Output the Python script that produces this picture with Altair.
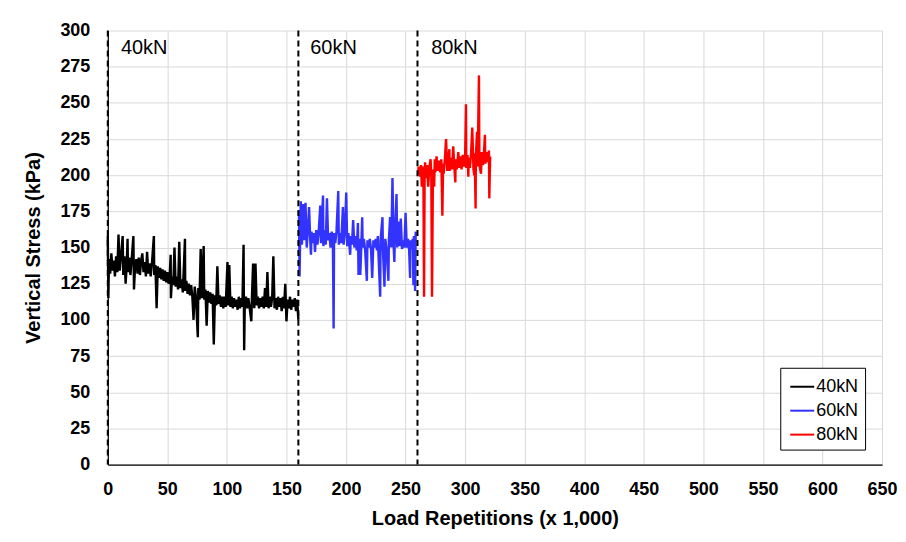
import altair as alt
import pandas as pd

# 40kN series (x in thousands of repetitions, y in kPa)
x40 = [0, 0.5, 1, 2, 3, 4, 5, 6, 7, 8, 9, 10, 11, 12.5, 13, 14, 15, 16, 16.6, 17, 18, 19, 20, 21.5, 22, 23, 24, 25,
       26, 27, 28, 29, 30, 31, 32, 33, 34, 35, 36, 37, 38.7, 39, 40, 41, 42, 43, 44, 45, 46, 47, 48, 49, 50, 51, 52,
       52.8, 53, 54, 55, 56, 57, 58, 59, 60, 61, 62, 63, 64.8, 65, 66, 67, 68, 69, 70, 71, 72, 73, 74, 75.6, 76, 77,
       78, 79, 80.5, 81, 82, 83, 84, 85, 86, 87, 88, 89, 90, 91, 92, 93, 94, 95, 96, 97, 98, 99, 100.5, 101, 102, 103,
       104, 105, 106, 107, 108, 109, 110, 111, 112, 113, 114, 114.5, 115, 116, 117, 118, 119, 120.5, 121, 122, 123,
       124, 125, 126, 127, 128, 129, 130, 131, 132, 133, 134, 135, 136, 137, 138, 139, 140, 141, 142, 143, 144, 145,
       146, 147, 148, 149, 150, 151, 152, 153, 154, 155, 156, 157, 158, 159, 160]
y40 = [158, 115, 142, 132, 146, 134, 141, 130, 144, 133, 159, 134, 143, 158, 131, 144, 125, 140, 156, 133, 143, 131,
       141, 158, 121, 138, 142, 132, 143, 131, 141, 146, 133, 140, 130, 147, 132, 139, 130, 138, 158, 131, 138, 108,
       137, 129, 136, 128, 135, 127, 134, 126, 133, 125, 131, 145, 115, 130, 124, 150, 123, 130, 121, 154, 122, 128,
       119, 156, 120, 127, 118, 125, 117, 124, 116, 100, 123, 116, 88, 122, 114, 149, 115, 151, 114, 121, 96, 120,
       112, 119, 111, 118, 83, 117, 110, 137, 111, 117, 109, 116, 108, 116, 109, 140, 110, 138, 109, 116, 108, 115,
       109, 114, 107, 116, 108, 115, 109, 152, 79, 110, 116, 108, 115, 109, 99, 115, 139, 108, 139, 110, 116, 108,
       115, 109, 116, 108, 122, 109, 133, 108, 116, 109, 115, 144, 108, 115, 107, 116, 109, 115, 106, 116, 108, 125,
       99, 114, 108, 116, 107, 114, 109, 115, 106, 114, 100]

# 60kN series
x60 = [160.5, 161, 162, 163, 164, 165, 166, 167, 168, 169, 170, 170.6, 171, 172, 173, 174, 175, 176, 177, 178.4, 179,
       180.7, 181, 182, 183, 184, 185, 186, 187, 188, 189, 189.6, 190, 191, 192, 193.5, 194, 195, 196, 197.4, 198,
       199, 200.2, 201, 202, 203.5, 204, 205, 206, 207, 208, 209, 210, 210.5, 211, 212, 213, 213.6, 214, 215, 216,
       217.5, 218, 219, 220, 221, 222, 223, 224, 225, 226, 226.7, 227, 228.7, 229, 230.6, 231, 232.3, 233, 234,
       235.6, 236, 237, 238, 239, 240, 240.6, 241, 242.4, 243, 244, 245, 246, 247, 248, 249, 250, 251, 252, 253,
       253.8, 254, 255, 256, 256.6, 257, 258, 258.5]
y60 = [176, 130, 182, 152, 180, 155, 181, 150, 162, 178, 154, 145, 161, 153, 160, 147, 162, 152, 160, 179, 153, 186,
       151, 162, 152, 184, 155, 160, 150, 161, 152, 94, 160, 153, 161, 189, 152, 160, 153, 178, 152, 160, 188, 151,
       160, 145, 158, 152, 169, 150, 158, 148, 167, 131, 156, 131, 155, 171, 150, 156, 149, 127, 155, 150, 156, 149,
       129, 155, 150, 156, 148, 158, 150, 116, 155, 171, 148, 123, 156, 149, 127, 155, 171, 150, 198, 151, 140, 157,
       187, 150, 168, 151, 170, 149, 155, 150, 174, 150, 156, 148, 129, 155, 149, 156, 124, 158, 120, 161]

# 80kN series
x80 = [260.5, 261, 262, 263, 263.6, 264, 265, 265.5, 266, 266.4, 267, 268, 269, 270, 271, 271.6, 272.2, 273, 274,
       274.5, 275, 276, 277, 278, 279, 280, 280.9, 281.5, 282, 283, 284, 285, 286, 286.8, 287, 288, 289, 290, 291,
       291.8, 292, 293, 294.3, 295, 296, 297, 298, 299, 300, 300.7, 301, 302, 302.7, 303, 304, 305, 306, 307, 307.7,
       308, 308.8, 309, 310, 310.5, 311.6, 312, 313.3, 314, 315, 316, 316.6, 317, 318, 319, 320, 320.3, 321]
y80 = [200, 206, 199, 207, 192, 206, 200, 116, 203, 209, 198, 207, 192, 206, 211, 200, 116, 204, 192, 211, 202, 213,
       203, 210, 202, 211, 172, 208, 201, 211, 225, 203, 212, 218, 203, 212, 204, 220, 205, 195, 211, 204, 216, 205,
       213, 204, 214, 206, 213, 249, 205, 214, 199, 212, 205, 215, 233, 204, 200, 215, 177, 213, 230, 206, 269, 207,
       201, 216, 207, 218, 228, 208, 216, 209, 217, 184, 213]

series_names = ["40kN", "60kN", "80kN"]
series_colors = ["#000000", "#3333ff", "#ff0000"]
stage_starts = [0, 160, 260]
stage_label_x = [11, 170, 271.5]
stage_label_y = [288, 288, 288]
x_ticks = list(range(0, 651, 50))
y_ticks = list(range(0, 301, 25))

rows = []
for name, xs, ys in zip(series_names, [x40, x60, x80], [y40, y60, y80]):
    for i, (a, b) in enumerate(zip(xs, ys)):
        rows.append({"series": name, "x": a, "y": b, "i": i})
df = pd.DataFrame(rows)

FONT = "Liberation Sans"
xscale = alt.Scale(domain=[0, 650], nice=False)
yscale = alt.Scale(domain=[0, 300], nice=False)
xaxis = alt.Axis(values=x_ticks, title="Load Repetitions (x 1,000)", labelPadding=16,
                 titlePadding=10, labelFlush=False, labelOverlap=False)
yaxis = alt.Axis(values=y_ticks, title="Vertical Stress (kPa)", labelPadding=18,
                 titlePadding=16, labelOverlap=False)

lines = alt.Chart(df).mark_line(strokeWidth=2.4).encode(
    x=alt.X("x:Q", scale=xscale, axis=xaxis),
    y=alt.Y("y:Q", scale=yscale, axis=yaxis),
    color=alt.Color("series:N",
                    scale=alt.Scale(domain=series_names, range=series_colors),
                    legend=alt.Legend(title=None, orient="none", legendX=674, legendY=338,
                                      strokeColor="black", fillColor="white", padding=6,
                                      symbolType="stroke", symbolSize=576, symbolStrokeWidth=2,
                                      labelFontSize=18, labelFont=FONT, labelColor="black",
                                      rowPadding=2, labelOffset=1, symbolOffset=3)),
    order="i:Q",
)

rules = alt.Chart(pd.DataFrame({"x": stage_starts})).mark_rule(
    color="black", strokeDash=[6, 4], strokeWidth=2
).encode(x=alt.X("x:Q", scale=xscale, axis=xaxis))

labels = alt.Chart(pd.DataFrame({"x": stage_label_x, "y": stage_label_y, "t": series_names})).mark_text(
    align="left", baseline="middle", fontSize=20, font=FONT, color="black"
).encode(x=alt.X("x:Q", scale=xscale, axis=xaxis),
         y=alt.Y("y:Q", scale=yscale, axis=yaxis), text="t:N")

chart = alt.layer(lines, rules, labels).properties(
    width=776, height=435,
    padding={"left": 15, "top": 13, "right": 0, "bottom": 3},
).configure_view(stroke=None).configure_axis(
    labelFont=FONT, labelFontSize=18, labelFontWeight="bold", labelColor="black",
    titleFont=FONT, titleFontSize=20, titleFontWeight="bold", titleColor="black",
    domainColor="black", domainWidth=1.2, ticks=False,
    gridColor="#d9d9d9", gridWidth=1,
)

chart.save("out.html", embed_options={"renderer": "svg", "actions": False})
